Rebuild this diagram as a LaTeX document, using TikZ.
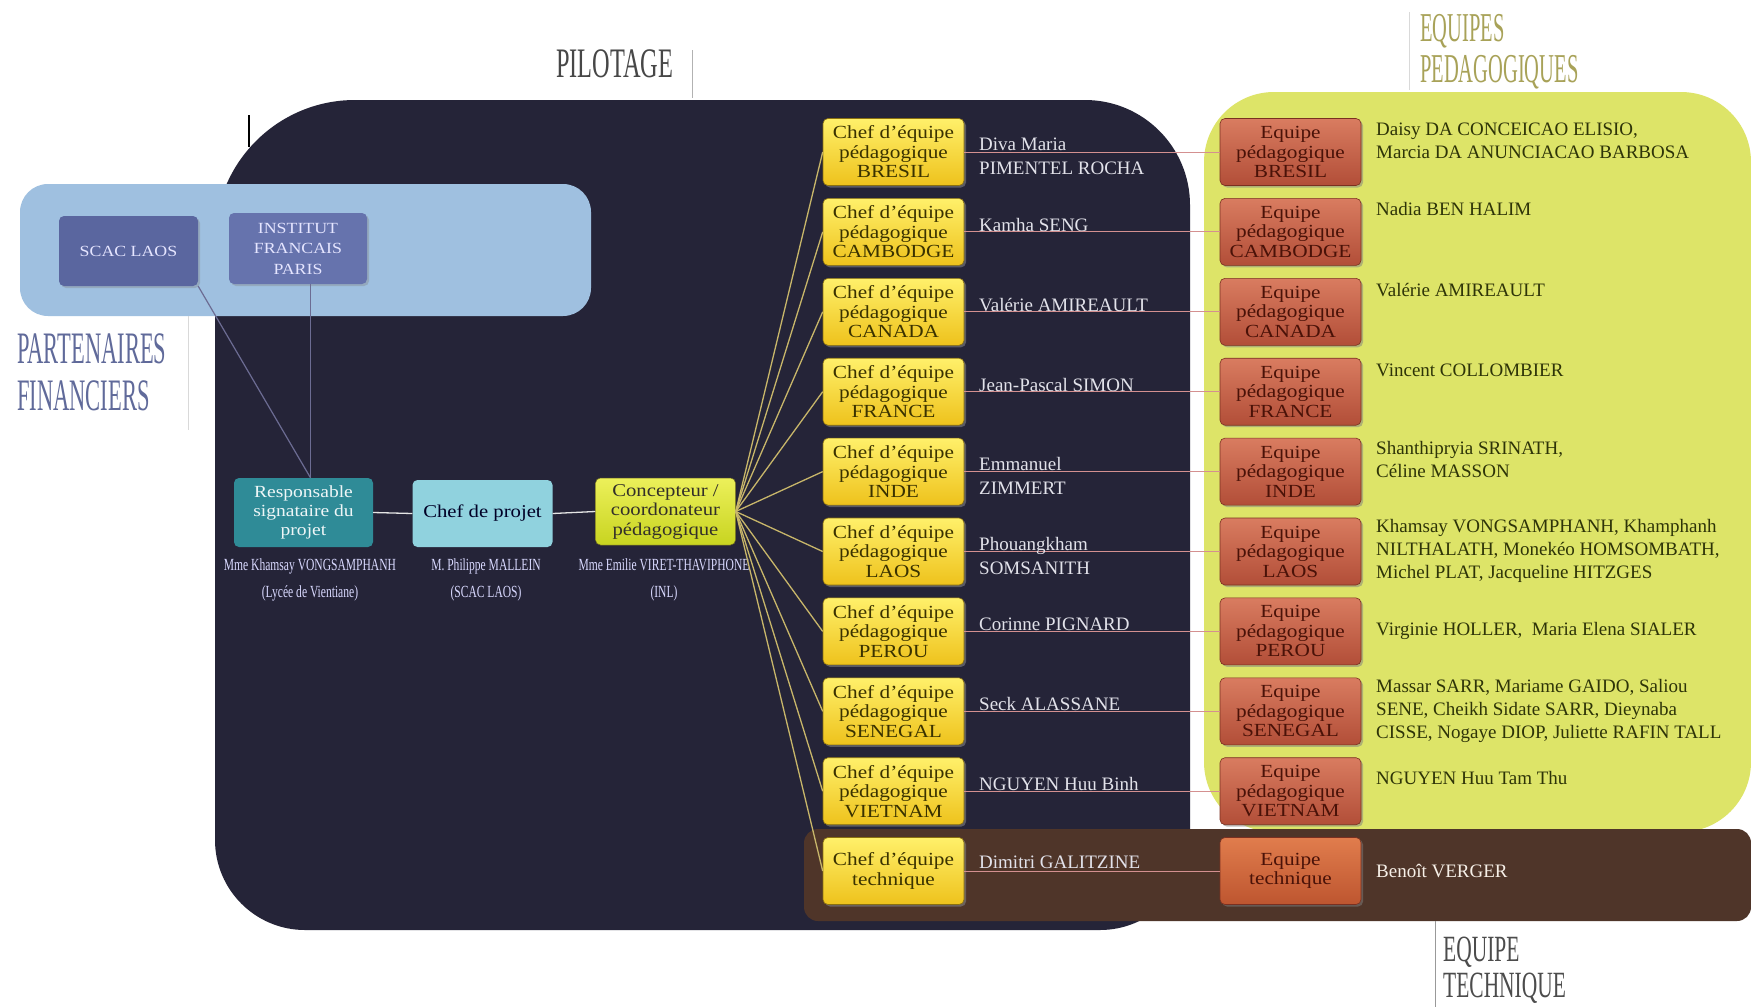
\documentclass[tikz,border=0pt]{standalone}
\usepackage{fontspec}
\setmainfont{Liberation Serif}
\newfontfamily\boxfont[FakeStretch=1.15]{Liberation Serif}
\newfontfamily\tfA[FakeStretch=0.5]{Liberation Serif}
\newfontfamily\tfB[FakeStretch=0.58]{Liberation Serif}
\newfontfamily\labfont[FakeStretch=0.68]{Liberation Serif}
\usetikzlibrary{shadows}
\definecolor{navy}{HTML}{252438}
\definecolor{ybg}{HTML}{DDE468}
\definecolor{brownbar}{HTML}{4F3529}
\definecolor{bluebg}{HTML}{9FC0E0}
\definecolor{scac}{HTML}{5A669F}
\definecolor{inst}{HTML}{6673AD}
\definecolor{chefT}{HTML}{FFF06A}
\definecolor{chefB}{HTML}{EEC21C}
\definecolor{chefD}{HTML}{8A7010}
\definecolor{chefTxt}{HTML}{3A3200}
\definecolor{eqT}{HTML}{D97C60}
\definecolor{eqB}{HTML}{B24E38}
\definecolor{eqD}{HTML}{7A3020}
\definecolor{eqTxt}{HTML}{4A1208}
\definecolor{fanc}{HTML}{C8B66A}
\definecolor{pinkc}{HTML}{D49090}
\definecolor{teal}{HTML}{2F8B97}
\definecolor{cyanbox}{HTML}{90D2DE}
\definecolor{concT}{HTML}{ECF05A}
\definecolor{concB}{HTML}{C8D420}
\definecolor{lname}{HTML}{E2E2EA}
\definecolor{rname}{HTML}{2E3408}
\definecolor{pedtitle}{HTML}{A8A258}
\tikzset{
 basebox/.style={rounded corners=5pt, minimum width=141pt, minimum height=67pt, inner sep=0pt, align=center,
   font=\boxfont\fontsize{18.5pt}{19.5pt}\selectfont},
 chefbox/.style={basebox, top color=chefT, bottom color=chefB, draw=chefD, line width=0.6pt, text=chefTxt,
   drop shadow={opacity=0.6,shadow xshift=2pt,shadow yshift=-2pt}},
 eqbox/.style={basebox, top color=eqT, bottom color=eqB, draw=eqD, line width=0.6pt, text=eqTxt,
   drop shadow={opacity=0.5,shadow xshift=2pt,shadow yshift=-2pt}},
 partbox/.style={rounded corners=5pt, minimum width=139pt, minimum height=70pt, inner sep=0pt, align=center,
   text=white!90!blue, font=\boxfont\fontsize{15.5pt}{20.5pt}\selectfont},
 chainbox/.style={rounded corners=5pt, minimum width=140pt, minimum height=68pt, inner sep=0pt, align=center,
   font=\boxfont\fontsize{18pt}{19.5pt}\selectfont},
 leftname/.style={anchor=west, inner sep=0pt, align=left, text=lname, font=\fontsize{19pt}{24pt}\selectfont},
 rightname/.style={anchor=west, inner sep=0pt, align=left, text=rname, font=\fontsize{19pt}{23pt}\selectfont},
 chainlabel/.style={inner sep=0pt, align=center, text=white!85!blue, font=\labfont\fontsize{17pt}{27pt}\selectfont},
 fan/.style={draw=fanc, line width=1.3pt},
 pinkline/.style={draw=pinkc, line width=1pt},
 chainline/.style={draw=white!80!gray, line width=1.3pt},
 partline/.style={draw=gray!85!blue, line width=1.2pt},
 sepline/.style={draw=gray!60, line width=1pt},
}
\begin{document}
\begin{tikzpicture}[x=1pt,y=-1pt]
\useasboundingbox[fill=white] (0,0) rectangle (1751,1007);

% regions
\fill[navy] (215,840) -- (215,240) arc[start angle=180,end angle=270,radius=140]
  -- (1085,100) arc[start angle=270,end angle=360,radius=105]
  -- (1190,840) arc[start angle=0,end angle=90,radius=90]
  -- (305,930) arc[start angle=90,end angle=180,radius=90] -- cycle;
\fill[ybg, rounded corners=70pt] (1204,92) rectangle (1751,832);
\fill[brownbar, rounded corners=14pt] (804,829) rectangle (1751,921);
\fill[bluebg, rounded corners=28pt] (20,184) rectangle (591,316);

% small tick and separator lines
\draw[black, line width=2pt] (249,115) -- (249,147);
\draw[sepline] (692,50) -- (692,98);
\draw[sepline, draw=gray!30] (188,316) -- (188,430);
\draw[sepline, draw=gray!30] (1409,12) -- (1409,90);
\draw[sepline, draw=gray!80] (1435,921) -- (1435,1007);

% titles
\node[inner sep=0pt, anchor=west, text=black!72, font=\tfB\fontsize{42pt}{42pt}\selectfont] (tpil) at (556,64) {PILOTAGE};
\node[inner sep=0pt, anchor=west, align=left, text=scac!85!gray, font=\tfA\fontsize{45pt}{47pt}\selectfont] (tpart) at (17,372) {PARTENAIRES\\FINANCIERS};
\node[inner sep=0pt, anchor=west, align=left, text=pedtitle, font=\tfA\fontsize{41pt}{41pt}\selectfont] (tped) at (1420,52) {EQUIPES\\PEDAGOGIQUES};
\node[inner sep=0pt, anchor=west, align=left, text=black!70, font=\tfB\fontsize{37pt}{36pt}\selectfont] (ttec) at (1443,970) {EQUIPE\\TECHNIQUE};

% partner boxes
\node[partbox, fill=scac, drop shadow={opacity=0.35,shadow xshift=2pt,shadow yshift=-2pt}] (scacb) at (128.5,251) {SCAC LAOS};
\node[partbox, fill=inst, minimum width=138pt, minimum height=71pt, drop shadow={opacity=0.35,shadow xshift=2pt,shadow yshift=-2pt}] (instb) at (298,248.5) {INSTITUT\\FRANCAIS\\PARIS};

% chain boxes
\node[chainbox, fill=teal, text=white!92!teal, minimum width=139pt, minimum height=69pt, font=\boxfont\fontsize{17pt}{19pt}\selectfont] (resp) at (303.5,512.5) {Responsable\\signataire du\\projet};
\node[chainbox, fill=cyanbox, text=black!85!blue, minimum height=67pt] (cp) at (482.5,513.5) {Chef de projet};
\node[chainbox, top color=concT, bottom color=concB, draw=olive!70!black, line width=0.5pt, text=black!85!olive, minimum height=67pt] (conc) at (665.5,511.5) {Concepteur /\\coordonateur\\pédagogique};

\coordinate (rtop) at ([xshift=7pt]resp.north);
\draw[partline] (scacb.south east) -- (rtop);
\draw[partline] (rtop |- instb.south) -- (rtop);
\draw[chainline] (resp.east) -- (cp.west);
\draw[chainline] (cp.east) -- (conc.west);

\node[chainlabel] (lresp) at (310,580) {Mme Khamsay VONGSAMPHANH\\(Lycée de Vientiane)};
\node[chainlabel] (lcp) at (486,580) {M. Philippe MALLEIN\\(SCAC LAOS)};
\node[chainlabel] (lconc) at (664,580) {Mme Emilie VIRET-THAVIPHONE\\(INL)};

% chef and equipe boxes
\foreach \i/\c in {1/BRESIL,2/CAMBODGE,3/CANADA,4/FRANCE,5/INDE,6/LAOS,7/PEROU,8/SENEGAL,9/VIETNAM}{
  \pgfmathsetmacro\yc{152+79.9*(\i-1)}
  \node[chefbox] (c\i) at (893.5,\yc) {Chef d’équipe\\pédagogique\\\c};
  \node[eqbox] (e\i) at (1290.5,\yc) {Equipe\\pédagogique\\\c};
}
\node[chefbox] (c10) at (893.5,871) {Chef d’équipe\\technique};
\node[eqbox, top color=eqT!80!orange, bottom color=eqB!85!orange] (e10) at (1290.5,871) {Equipe\\technique};

\foreach \i in {1,...,10}{
  \draw[fan] (conc.east) -- (c\i.west);
  \draw[pinkline] (c\i.east) -- (e\i.west);
}

% left names
\node[leftname] (n1) at (979,156.5) {Diva Maria\\PIMENTEL ROCHA};
\node[leftname] (n2) at (979,225) {Kamha SENG};
\node[leftname] (n3) at (979,305) {Valérie AMIREAULT};
\node[leftname] (n4) at (979,385) {Jean-Pascal SIMON};
\node[leftname] (n5) at (979,476) {Emmanuel\\ZIMMERT};
\node[leftname] (n6) at (979,556) {Phouangkham\\SOMSANITH};
\node[leftname] (n7) at (979,624) {Corinne PIGNARD};
\node[leftname] (n8) at (979,704) {Seck ALASSANE};
\node[leftname] (n9) at (979,784) {NGUYEN Huu Binh};
\node[leftname] (n10) at (979,862) {Dimitri GALITZINE};

% right names
\node[rightname] (m1) at (1376,140.5) {Daisy DA CONCEICAO ELISIO,\\Marcia DA ANUNCIACAO BARBOSA};
\node[rightname] (m2) at (1376,209) {Nadia BEN HALIM};
\node[rightname] (m3) at (1376,290) {Valérie AMIREAULT};
\node[rightname] (m4) at (1376,370) {Vincent COLLOMBIER};
\node[rightname] (m5) at (1376,459) {Shanthipryia SRINATH,\\Céline MASSON};
\node[rightname] (m6) at (1376,551) {Khamsay VONGSAMPHANH, Khamphanh\\NILTHALATH, Monekéo HOMSOMBATH,\\Michel PLAT, Jacqueline HITZGES};
\node[rightname] (m7) at (1376,631) {Virginie HOLLER,\ \ Maria Elena SIALER};
\node[rightname] (m8) at (1376,711) {Massar SARR, Mariame GAIDO, Saliou\\SENE, Cheikh Sidate SARR, Dieynaba\\CISSE, Nogaye DIOP, Juliette RAFIN TALL};
\node[rightname] (m9) at (1376,778) {NGUYEN Huu Tam Thu};
\node[rightname, text=white!88!brown] (m10) at (1376,871) {Benoît VERGER};
\end{tikzpicture}
\end{document}
